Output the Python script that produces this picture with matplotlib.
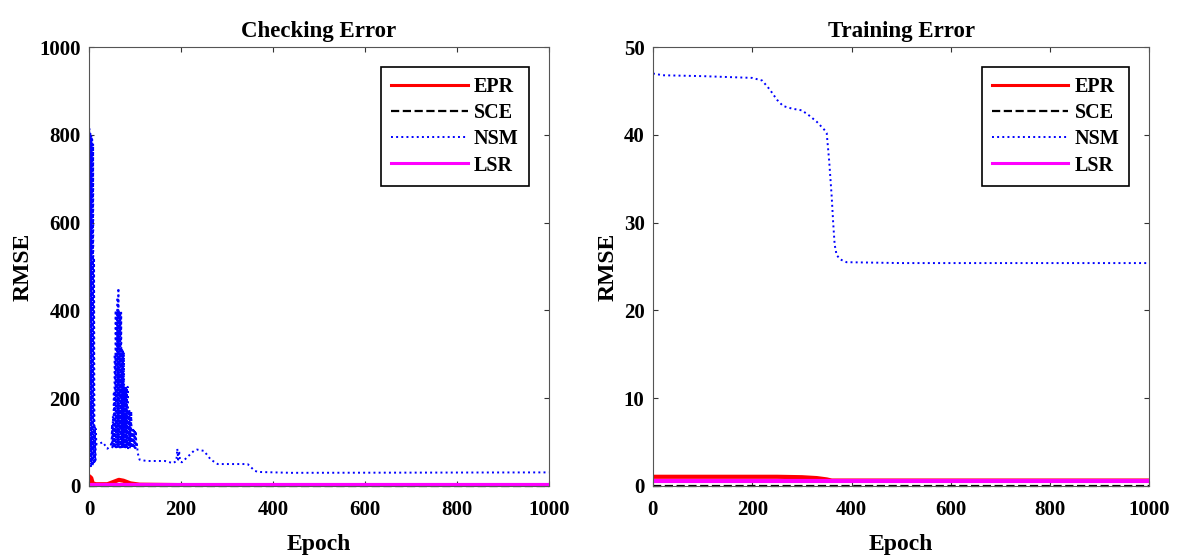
import matplotlib.pyplot as plt

plt.rcParams["font.family"] = ["Liberation Serif", "DejaVu Serif"]
plt.rcParams["font.weight"] = "bold"

# Checking error (left)
chk_nsm_epoch = [0, 1, 2, 3, 4, 5, 6, 7, 8, 9, 10, 11, 12, 13, 14, 15, 16, 20, 30, 40, 45, 48,
                 49, 50, 51, 52, 53, 54, 55, 56, 57, 58, 59, 60, 61, 62, 63, 64, 65, 66, 67, 68,
                 69, 70, 71, 72, 73, 74, 75, 76, 77, 78, 79, 80, 81, 82, 83, 84, 85, 86, 87, 88,
                 89, 90, 91, 92, 93, 94, 95, 96, 97, 98, 99, 100, 101, 102, 103, 104, 106, 110,
                 125, 165, 183, 190, 192, 194, 196, 198, 202, 218, 228, 235, 250, 265, 280, 345,
                 360, 367, 440, 1000]
chk_nsm = [40, 815, 50, 805, 45, 800, 50, 790, 45, 780, 50, 520, 55, 135, 55, 130, 95, 95, 100, 85, 90, 95,
           90, 140, 88, 160, 86, 215, 88, 300, 86, 400, 88, 400, 86, 430, 88, 451, 86, 400, 88, 397,
           86, 395, 88, 310, 86, 310, 88, 305, 86, 226, 88, 226, 86, 225, 88, 226, 86, 173, 88, 173,
           86, 170, 88, 170, 86, 128, 88, 128, 86, 126, 88, 128, 86, 125, 88, 100, 75, 60,
           57, 57, 52, 57, 85, 60, 80, 57, 54, 70, 80, 83, 80, 60, 50, 50,
           35, 32, 30, 31]
chk_epr_epoch = [0, 1, 3, 5, 8, 15, 40, 55, 65, 75, 90, 110, 200, 1000]
chk_epr = [10, 22, 20, 18, 6, 4, 4, 10, 14, 12, 6, 3, 2, 1.5]
chk_sce_epoch = [0, 1000]
chk_sce = [0.5, 0.5]
chk_lsr_epoch = [0, 1000]
chk_lsr = [2, 2]

# Training error (right)
trn_nsm_epoch = [0, 20, 100, 200, 220, 235, 250, 262, 280, 300, 315, 330, 345, 350, 355,
                 360, 363, 366, 370, 378, 390, 500, 1000]
trn_nsm = [47.0, 46.8, 46.7, 46.5, 46.2, 45.2, 44.0, 43.3, 43.0, 42.8, 42.2, 41.5, 40.6, 40.2, 37,
           33, 30, 27.5, 26.3, 25.8, 25.5, 25.4, 25.4]
trn_epr_epoch = [0, 250, 300, 330, 350, 360, 1000]
trn_epr = [1.05, 1.05, 1.0, 0.9, 0.75, 0.62, 0.62]
trn_sce_epoch = [0, 1000]
trn_sce = [0.03, 0.03]
trn_lsr_epoch = [0, 1000]
trn_lsr = [0.55, 0.55]


def draw(ax, data, title, ymax, yticks):
    (e1, v1), (e2, v2), (e3, v3), (e4, v4) = data
    ax.plot(e1, v1, color="red", lw=3, label="EPR")
    ax.plot(e2, v2, color="black", ls="--", lw=1.6, label="SCE", clip_on=False)
    ax.plot(e3, v3, color="blue", ls=":", lw=1.4, label="NSM")
    ax.plot(e4, v4, color="#ff00ff", lw=3, label="LSR")
    ax.set_xlim(0, 1000)
    ax.set_ylim(0, ymax)
    ax.set_xticks([0, 200, 400, 600, 800, 1000])
    ax.set_yticks(yticks)
    ax.tick_params(direction="in", top=True, right=True, labelsize=15, colors="#333333",
                   labelcolor="black")
    ax.tick_params(axis="x", pad=10)
    ax.tick_params(axis="y", pad=6)
    for s in ax.spines.values():
        s.set_color("#555555")
    ax.set_title(title, fontsize=16.5, fontweight="bold", pad=7)
    ax.set_xlabel("Epoch", fontsize=17, fontweight="bold", labelpad=10)
    ax.set_ylabel("RMSE", fontsize=17, fontweight="bold", labelpad=4)
    leg = ax.legend(loc="upper right", fontsize=14.5, handlelength=3.8, fancybox=False,
                    edgecolor="black", framealpha=1, borderaxespad=1.0, labelspacing=0.3,
                    handletextpad=0.3, borderpad=0.5)
    leg.get_frame().set_linewidth(1.2)
    for line in leg.get_lines():
        line.set_linewidth(min(line.get_linewidth(), 2.2))


fig = plt.figure(figsize=(11.85, 5.59), dpi=100)
ax1 = fig.add_axes([0.0751, 0.1306, 0.388, 0.785])
ax2 = fig.add_axes([0.551, 0.1306, 0.419, 0.785])

draw(ax1, [(chk_epr_epoch, chk_epr), (chk_sce_epoch, chk_sce), (chk_nsm_epoch, chk_nsm),
           (chk_lsr_epoch, chk_lsr)], "Checking Error", 1000, [0, 200, 400, 600, 800, 1000])
draw(ax2, [(trn_epr_epoch, trn_epr), (trn_sce_epoch, trn_sce), (trn_nsm_epoch, trn_nsm),
           (trn_lsr_epoch, trn_lsr)], "Training Error", 50, [0, 10, 20, 30, 40, 50])

fig.savefig("out.png", dpi=100)
